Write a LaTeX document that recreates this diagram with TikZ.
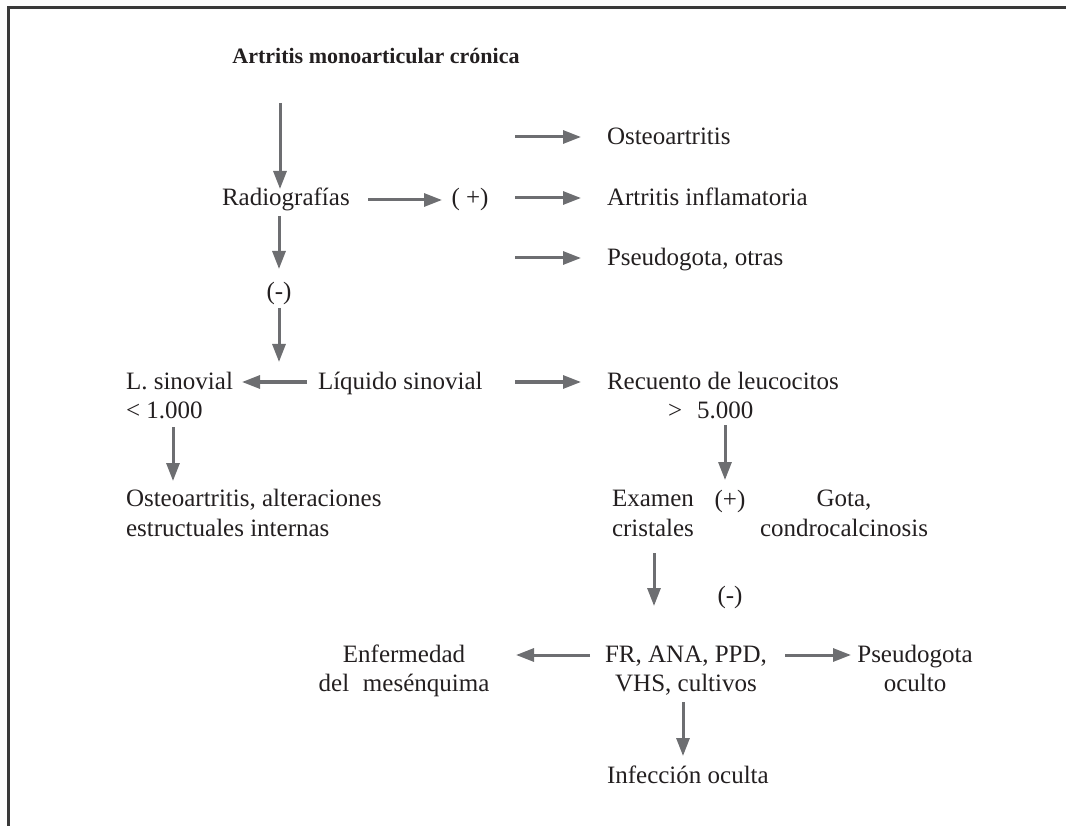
\documentclass[tikz,border=0pt]{standalone}
\usepackage{fontspec}
\setmainfont{Liberation Serif}
\usetikzlibrary{arrows.meta}
\definecolor{arrgray}{HTML}{6D6E71}
\definecolor{txt}{HTML}{231F20}
\definecolor{frame}{HTML}{3A3A3A}
\tikzset{
  lbl/.style={inner sep=0pt, outer sep=0pt, anchor=base, text=txt, font=\fontsize{25}{29.5}\selectfont},
  lblw/.style={lbl, anchor=base west},
  ttl/.style={inner sep=0pt, anchor=base, text=txt, font=\fontsize{22}{26}\selectfont\bfseries},
  arr/.style={draw=arrgray, line width=3pt, -{Triangle[length=18pt,width=13pt]}},
  framel/.style={draw=frame, line width=2.2pt}
}
\begin{document}
\begin{tikzpicture}[x=1pt,y=-1pt]
\useasboundingbox (0,0) rectangle (1066,826);
\draw[framel] (8.5,826) -- (8.5,7.5) -- (1066,7.5);

% nodes (multi-line nodes are placed by the baseline of their last line)
\node[ttl] (title) at (376,64) {Artritis monoarticular crónica};
\node[lblw] (radio) at (222,206) {Radiografías};
\node[lbl] (pos1) at (470,206) {( +)};
\node[lblw] (oa1) at (607,145) {Osteoartritis};
\node[lblw] (ai) at (607,206) {Artritis inflamatoria};
\node[lblw] (pso) at (607,266) {Pseudogota, otras};
\node[lbl] (neg1) at (279,300) {(-)};
\node[lblw] (liq) at (318,389) {Líquido sinovial};
\node[lblw, align=left] (lsin) at (126,418.5) {L. sinovial\\< 1.000};
\node[lblw] (rec) at (607,389) {Recuento de leucocitos};
\node[lblw] (rec2) at (668,418) {>\hspace{0.6em}5.000};
\node[lblw, align=left] (oa2) at (126,536) {Osteoartritis, alteraciones\\estructuales internas};
\node[lblw, align=left] (exa) at (612,536) {Examen\\cristales};
\node[lbl] (pos2) at (730,507) {(+)};
\node[lbl, align=center] (gota) at (844,536) {Gota,\\condrocalcinosis};
\node[lbl] (neg2) at (730,603) {(-)};
\node[lbl, align=center] (fr) at (686,691.5) {FR, ANA, PPD,\\VHS, cultivos};
\node[lbl, align=center] (enf) at (404,691.5) {Enfermedad\\del\hspace{0.55em}mesénquima};
\node[lbl, align=center] (pgo) at (915,691.5) {Pseudogota\\oculto};
\node[lblw] (inf) at (607,783) {Infección oculta};

% connector end points
\coordinate (a1s) at (280,103);  \coordinate (a1e) at (280,189);
\coordinate (a2s) at (368,200);  \coordinate (a2e) at (442,200);
\coordinate (a3s) at (515,137);  \coordinate (a3e) at (581,137);
\coordinate (a4s) at (515,198);  \coordinate (a4e) at (581,198);
\coordinate (a5s) at (515,258);  \coordinate (a5e) at (581,258);
\coordinate (a6s) at (279,216);  \coordinate (a6e) at (279,269);
\coordinate (a7s) at (279,308);  \coordinate (a7e) at (279,362);
\coordinate (a8s) at (307,382);  \coordinate (a8e) at (242,382);
\coordinate (a9s) at (515,382);  \coordinate (a9e) at (581,382);
\coordinate (a10s) at (173,427); \coordinate (a10e) at (173,481);
\coordinate (a11s) at (725,425); \coordinate (a11e) at (725,480);
\coordinate (a12s) at (654,553); \coordinate (a12e) at (654,606);
\coordinate (a13s) at (590,655); \coordinate (a13e) at (516,655);
\coordinate (a14s) at (785,655); \coordinate (a14e) at (851,655);
\coordinate (a15s) at (683,702); \coordinate (a15e) at (683,756);

\draw[arr] (a1s) -- (a1e);
\draw[arr] (a2s) -- (a2e);
\draw[arr] (a3s) -- (a3e);
\draw[arr] (a4s) -- (a4e);
\draw[arr] (a5s) -- (a5e);
\draw[arr] (a6s) -- (a6e);
\draw[arr] (a7s) -- (a7e);
\draw[arr] (a8s) -- (a8e);
\draw[arr] (a9s) -- (a9e);
\draw[arr] (a10s) -- (a10e);
\draw[arr] (a11s) -- (a11e);
\draw[arr] (a12s) -- (a12e);
\draw[arr] (a13s) -- (a13e);
\draw[arr] (a14s) -- (a14e);
\draw[arr] (a15s) -- (a15e);
\end{tikzpicture}
\end{document}
